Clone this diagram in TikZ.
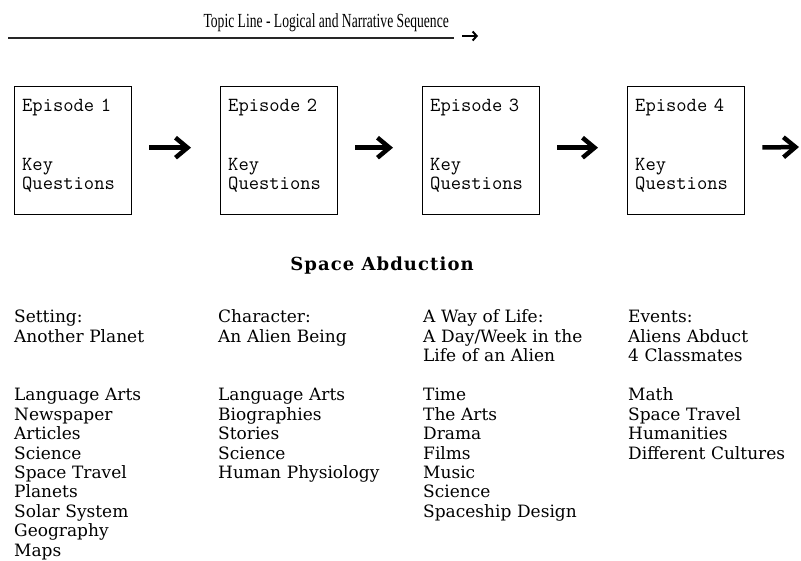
\documentclass[tikz,border=0pt]{standalone}
\usepackage{fontspec}
\setmainfont{DejaVu Serif}
\newfontfamily\topicfont[FakeStretch=0.68]{Liberation Serif}
\newfontfamily\titlefont[LetterSpace=6]{DejaVu Serif}
\usetikzlibrary{arrows.meta,positioning}

\begin{document}
\begin{tikzpicture}
[x=1pt, y=-1pt,
block/.style ={rectangle, draw, line width=1.4pt,
minimum width=117pt, minimum height=128pt,
inner sep=0pt, anchor=north west},
eptext/.style ={font=\ttfamily\fontsize{20}{19}\selectfont,
text width=104pt, align=left, inner sep=0pt, anchor=base west},
topics/.style ={font=\fontsize{17}{19.4}\selectfont,
text width=195pt, align=left, inner sep=0pt, anchor=base west},
seqarrow/.style ={draw, line width=4.5pt,
-{Straight Barb[length=12pt,width=20pt]},
shorten <=17pt, shorten >=29pt}]
\useasboundingbox (0,0) rectangle (801,561);
% topic line along the top
\coordinate (tlstart) at (8,38);
\coordinate (tlend) at (454,38);
\draw [line width=1.6pt, black!85] (tlstart) -- (tlend);
\node [font=\topicfont\fontsize{20}{20}\selectfont, inner sep=0pt,
anchor=base east] (topic) at (449,28)
{Topic Line - Logical and Narrative Sequence};
\coordinate (tarrowa) at (462,36);
\coordinate (tarrowb) at (478,36);
\draw [line width=2pt, -{Straight Barb[length=4pt,width=9pt]}] (tarrowa) -- (tarrowb);
% the four episodes
\node [block] (ep1) at (14,86) {};
\node [block] (ep2) at (220,86) {};
\node [block] (ep3) at (422,86) {};
\node [block] (ep4) at (627,86) {};
\node [eptext] (ep1name) at ([shift={(8pt,-26pt)}]ep1.north west) {Episode 1};
\node [eptext] (ep1key) at ([shift={(8pt,-85pt)}]ep1.north west) {Key\\Questions};
\node [eptext] (ep2name) at ([shift={(8pt,-26pt)}]ep2.north west) {Episode 2};
\node [eptext] (ep2key) at ([shift={(8pt,-85pt)}]ep2.north west) {Key\\Questions};
\node [eptext] (ep3name) at ([shift={(8pt,-26pt)}]ep3.north west) {Episode 3};
\node [eptext] (ep3key) at ([shift={(8pt,-85pt)}]ep3.north west) {Key\\Questions};
\node [eptext] (ep4name) at ([shift={(8pt,-26pt)}]ep4.north west) {Episode 4};
\node [eptext] (ep4key) at ([shift={(8pt,-85pt)}]ep4.north west) {Key\\Questions};
\coordinate (more) at (801,147);
\begin{scope}[every path/.style=seqarrow]
\path ([yshift=3pt]ep1.east) -- ([yshift=3pt]ep2.west);
\path ([yshift=3pt]ep2.east) -- ([yshift=3pt]ep3.west);
\path ([yshift=3pt]ep3.east) -- ([yshift=3pt]ep4.west);
\path [shorten >=2pt] ([yshift=3pt]ep4.east) -- (more);
\end{scope}
% the unit and its four strands
\node [font=\titlefont\bfseries\fontsize{18}{20}\selectfont, inner sep=0pt,
anchor=base] (abduction) at (382,271) {Space Abduction};
\node [topics] (setting) at (14,323) {Setting:\\Another Planet};
\node [topics] (character) at (218,323) {Character:\\An Alien Being};
\node [topics] (wayoflife) at (423,323) {A Way of Life:\\A Day/Week in the\\Life of an Alien};
\node [topics] (events) at (628,323) {Events:\\Aliens Abduct\\4 Classmates};
\node [topics] (settingsubj) at (14,401) {Language Arts\\Newspaper\\Articles\\Science\\Space Travel\\Planets\\Solar System\\Geography\\Maps};
\node [topics] (charactersubj) at (218,401) {Language Arts\\Biographies\\Stories\\Science\\Human Physiology};
\node [topics] (wayoflifesubj) at (423,401) {Time\\The Arts\\Drama\\Films\\Music\\Science\\Spaceship Design};
\node [topics] (eventssubj) at (628,401) {Math\\Space Travel\\Humanities\\Different Cultures};
\end{tikzpicture}
\end{document}
